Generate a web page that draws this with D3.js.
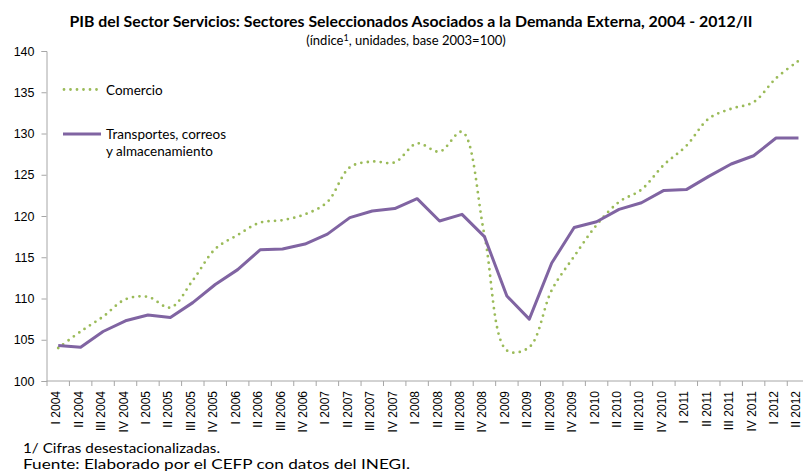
<!DOCTYPE html>
<html>
<head>
<meta charset="utf-8">
<script src="https://cdn.jsdelivr.net/npm/d3@7"></script>
<style>
  body { margin: 0; background: #fff; }
  svg { display: block; }
  .tick text { fill: #000; }
</style>
</head>
<body>
<svg id="chart" width="803" height="472"></svg>
<script>
// quarters, I 2004 .. II 2012
var quarters = ["I 2004", "II 2004", "III 2004", "IV 2004",
  "I 2005", "II 2005", "III 2005", "IV 2005",
  "I 2006", "II 2006", "III 2006", "IV 2006",
  "I 2007", "II 2007", "III 2007", "IV 2007",
  "I 2008", "II 2008", "III 2008", "IV 2008",
  "I 2009", "II 2009", "III 2009", "IV 2009",
  "I 2010", "II 2010", "III 2010", "IV 2010",
  "I 2011", "II 2011", "III 2011", "IV 2011",
  "I 2012", "II 2012"]

var comercio = [104.0, 106.0, 107.8, 109.9, 110.2, 108.9, 112.2, 116.0,
  117.7, 119.2, 119.5, 120.2, 121.7, 125.9, 126.6, 126.5,
  128.8, 127.8, 130.2, 117.7, 103.7, 104.1, 111.0, 115.1,
  118.9, 121.7, 123.2, 126.2, 128.5, 131.8, 133.0, 133.8,
  136.7, 138.8]

var transportes = [104.3, 104.1, 106.0, 107.3, 108.0, 107.7, 109.5, 111.7,
  113.5, 115.9, 116.0, 116.6, 117.8, 119.8, 120.6, 120.9,
  122.1, 119.4, 120.2, 117.5, 110.3, 107.5, 114.3, 118.6,
  119.3, 120.8, 121.6, 123.1, 123.2, 124.8, 126.3, 127.3,
  129.45, 129.45]

var yTicks = [100, 105, 110, 115, 120, 125, 130, 135, 140]

var colorComercio = "#9BBB59"
var colorTransp = "#8064A2"
var axisColor = "#a6a6a6"

var svg = d3.select("#chart")

var margin = {top: 51, bottom: 381, left: 47, right: 809.7}

var x = d3.scaleBand()
  .domain(quarters)
  .range([margin.left, margin.right])
  .padding(0)

var y = d3.scaleLinear()
  .domain([100, 140])
  .range([margin.bottom, margin.top])

// title
svg.append("text")
  .attr("x", 411).attr("y", 27)
  .attr("text-anchor", "middle")
  .attr("font-family", "Lato")
  .attr("font-weight", "bold")
  .attr("font-size", 16)
  .attr("textLength", 683)
  .attr("lengthAdjust", "spacingAndGlyphs")
  .text("PIB del Sector Servicios: Sectores Seleccionados Asociados a la Demanda Externa, 2004 - 2012/II")

var sub = svg.append("text")
  .attr("x", 406).attr("y", 45)
  .attr("text-anchor", "middle")
  .attr("font-family", "Lato")
  .attr("font-size", 13)
sub.append("tspan").text("(índice")
sub.append("tspan").attr("dy", -4).attr("font-size", 9).text("1")
sub.append("tspan").attr("dy", 4).text(", unidades, base 2003=100)")

// y axis
var yAxis = svg.append("g")
  .attr("transform", `translate(${margin.left - 0.5},0)`)
  .call(d3.axisLeft(y).tickValues(yTicks).tickSize(5).tickSizeOuter(5).tickPadding(7))
yAxis.selectAll("path, line").attr("stroke", axisColor)
yAxis.selectAll("text")
  .attr("font-family", "Liberation Sans")
  .attr("font-size", 12.5)

// x axis: labels centred in each band, ticks at band edges
var xAxis = svg.append("g")
  .attr("transform", `translate(0,${margin.bottom})`)
xAxis.append("line")
  .attr("x1", margin.left - 0.5).attr("x2", margin.right)
  .attr("stroke", axisColor)
xAxis.selectAll("line.tk")
  .data(d3.range(quarters.length + 1))
  .join("line")
  .attr("class", "tk")
  .attr("x1", i => margin.left + i * x.step())
  .attr("x2", i => margin.left + i * x.step())
  .attr("y1", 0).attr("y2", 5)
  .attr("stroke", axisColor)
xAxis.selectAll("text")
  .data(quarters)
  .join("text")
  .attr("transform", d => `translate(${x(d) + x.bandwidth() / 2 + 2},10) rotate(-90)`)
  .attr("text-anchor", "end")
  .attr("font-family", "Liberation Sans")
  .attr("font-size", 12)
  .text(d => d)

// lines
var lineC = d3.line()
  .curve(d3.curveCatmullRom.alpha(0.5))
  .x((d, i) => x(quarters[i]) + x.bandwidth() / 2)
  .y(d => y(d))

var lineT = d3.line()
  .x((d, i) => x(quarters[i]) + x.bandwidth() / 2)
  .y(d => y(d))

svg.append("path")
  .datum(comercio)
  .attr("fill", "none")
  .attr("stroke", colorComercio)
  .attr("stroke-width", 2.8)
  .attr("stroke-linecap", "round")
  .attr("stroke-dasharray", "0,6.5")
  .attr("d", lineC)

svg.append("path")
  .datum(transportes)
  .attr("fill", "none")
  .attr("stroke", colorTransp)
  .attr("stroke-width", 3)
  .attr("stroke-linejoin", "round")
  .attr("d", lineT)

// legend
var legend = svg.append("g")
  .attr("font-family", "Lato")
  .attr("font-size", 13.5)
legend.append("line")
  .attr("x1", 64).attr("x2", 100).attr("y1", 89.5).attr("y2", 89.5)
  .attr("stroke", colorComercio).attr("stroke-width", 2.8)
  .attr("stroke-linecap", "round").attr("stroke-dasharray", "0,6.5")
legend.append("text").attr("x", 106).attr("y", 94.5).text("Comercio")
legend.append("line")
  .attr("x1", 63).attr("x2", 101).attr("y1", 134).attr("y2", 134)
  .attr("stroke", colorTransp).attr("stroke-width", 3)
legend.append("text").attr("x", 106).attr("y", 138.5).text("Transportes, correos")
legend.append("text").attr("x", 106).attr("y", 156).text("y almacenamiento")

// footnotes
var foot = svg.append("g")
  .attr("font-family", "Lato")
  .attr("font-size", 14)
foot.append("text").attr("x", 23).attr("y", 453)
  .attr("textLength", 197).attr("lengthAdjust", "spacingAndGlyphs")
  .text("1/ Cifras desestacionalizadas.")
foot.append("text").attr("x", 23).attr("y", 469)
  .attr("textLength", 387).attr("lengthAdjust", "spacingAndGlyphs")
  .text("Fuente: Elaborado por el CEFP con datos del INEGI.")
</script>
</body>
</html>
